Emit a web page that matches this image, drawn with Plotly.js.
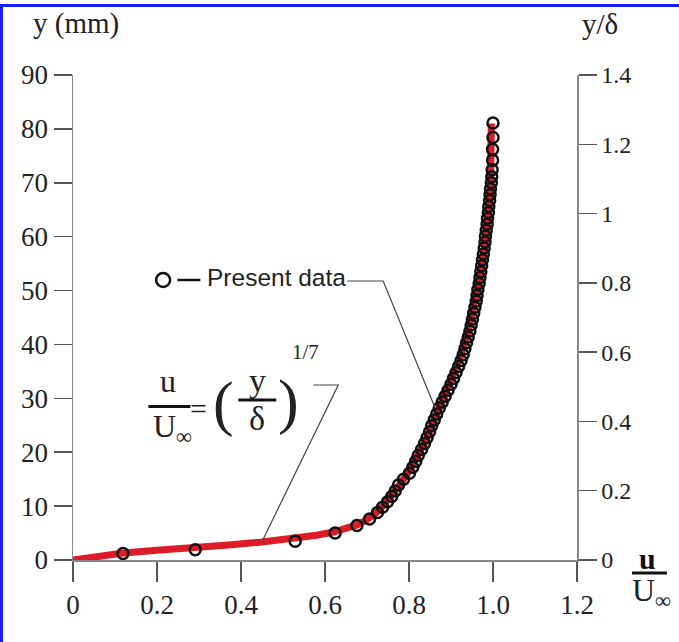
<!DOCTYPE html>
<html>
<head>
<meta charset="utf-8">
<script src="https://cdn.plot.ly/plotly-3.0.1.min.js"></script>
<style>
  html, body { margin: 0; padding: 0; background: #fff; overflow: hidden; }
  #wrap { position: relative; width: 679px; height: 642px; overflow: hidden; }
  #plot { width: 679px; height: 642px; }
  #bTop { position: absolute; left: 0; top: 4px; width: 679px; height: 3px; background: #1a1aff; pointer-events: none; }
  #bLeft { position: absolute; left: 0; top: 4px; width: 3px; height: 638px; background: #1a1aff; pointer-events: none; }
</style>
</head>
<body>
<div id="wrap"><div id="plot"></div><div id="bTop"></div><div id="bLeft"></div></div>
<script>
// ---- data ----
const xTickVals = [0, 0.2, 0.4, 0.6, 0.8, 1.0, 1.2];
const xTickText = ['0', '0.2', '0.4', '0.6', '0.8', '1.0', '1.2'];
const yLeftRange = [0, 90];
const yRightRange = [0, 1.4];

// Present data (u/U_inf, y in mm)
const dataU = [0.119, 0.291, 0.529, 0.624, 0.676, 0.706, 0.725, 0.737, 0.749, 0.759,
  0.767, 0.775, 0.787, 0.801, 0.809, 0.816, 0.822, 0.830, 0.837, 0.843,
  0.849, 0.854, 0.860, 0.866, 0.872, 0.879, 0.886, 0.893, 0.900, 0.906,
  0.912, 0.918, 0.924, 0.929, 0.933, 0.937, 0.941, 0.945, 0.948, 0.951,
  0.954, 0.957, 0.960, 0.962, 0.964, 0.967, 0.969, 0.971, 0.973, 0.975,
  0.977, 0.979, 0.981, 0.982, 0.984, 0.986, 0.987, 0.989, 0.990, 0.992,
  0.993, 0.994, 0.996, 0.997, 0.998, 0.999, 0.999, 1.000, 1.000];
const dataY = [1.2, 1.9, 3.5, 5.0, 6.4, 7.6, 8.8, 9.8, 10.8, 11.8,
  12.8, 13.9, 15.0, 16.1, 17.2, 18.3, 19.4, 20.5, 21.6, 22.7,
  23.8, 24.9, 26.0, 27.1, 28.2, 29.3, 30.4, 31.5, 32.6, 33.7,
  34.8, 35.9, 37.0, 38.1, 39.2, 40.3, 41.4, 42.5, 43.6, 44.7,
  45.8, 46.9, 48.0, 49.1, 50.2, 51.3, 52.4, 53.5, 54.6, 55.7,
  56.8, 57.9, 59.0, 60.1, 61.2, 62.3, 63.4, 64.5, 65.6, 66.7,
  67.8, 68.9, 70.0, 71.1, 72.4, 74.2, 76.2, 78.4, 81.1];

// 1/7 power-law curve as drawn (red)
const fitU = [0, 0.06, 0.12, 0.20, 0.29, 0.37, 0.445, 0.53, 0.58, 0.62, 0.676, 0.70, 0.72,
  0.74, 0.76, 0.78, 0.80, 0.82, 0.84, 0.86, 0.88, 0.90, 0.92, 0.94, 0.955, 0.97,
  0.98, 0.988, 0.993, 0.995, 0.996];
const fitY = [0, 0.7, 1.3, 1.8, 2.2, 2.8, 3.3, 4.0, 4.6, 5.2, 6.5, 7.5, 8.6,
  10.2, 12.0, 14.2, 16.5, 19.3, 22.2, 26.0, 29.5, 33.0, 37.2, 42.0, 47.0, 53.0,
  58.0, 63.0, 68.0, 74.0, 81.0];

// ---- layout helpers (pixel -> paper) ----
const L = 72.5, R = 577, T = 75, B = 560;
const P = px => (px - L) / (R - L);
const Q = py => (B - py) / (B - T);

const serif = 'Liberation Serif, Times New Roman, serif';
const sans = 'Liberation Sans, Arial, sans-serif';
const ink = '#222';

function txt(text, px, py, size, fam, extra) {
  return Object.assign({
    text: text, xref: 'paper', yref: 'paper', x: P(px), y: Q(py),
    xanchor: 'center', yanchor: 'middle', showarrow: false,
    font: {family: fam || serif, size: size, color: ink}
  }, extra || {});
}

const traces = [
  {x: fitU, y: fitY, mode: 'lines', type: 'scatter',
   line: {color: 'rgb(222,28,40)', width: 7}, hoverinfo: 'skip', showlegend: false},
  {x: dataU, y: dataY, mode: 'markers', type: 'scatter',
   marker: {symbol: 'circle-open', size: 11, color: '#111', line: {width: 2.5, color: '#111'}},
   showlegend: false},
  // carrier so the right (y/delta) axis is drawn
  {x: [null], y: [null], yaxis: 'y2', mode: 'markers', type: 'scatter',
   hoverinfo: 'skip', showlegend: false}
];

const layout = {
  width: 679, height: 642,
  margin: {l: L, r: 679 - R, t: T, b: 642 - B, pad: 0},
  paper_bgcolor: '#fff', plot_bgcolor: '#fff',
  showlegend: false,
  xaxis: {
    range: [0, 1.2], tickvals: xTickVals, ticktext: xTickText,
    ticks: 'outside', ticklen: 20, tickwidth: 1.5, tickcolor: '#555',
    showline: true, linecolor: '#888', linewidth: 1.5,
    showgrid: false, zeroline: false, automargin: false,
    tickfont: {family: serif, size: 27, color: ink}
  },
  yaxis: {
    range: yLeftRange, dtick: 10, tick0: 0,
    ticks: 'outside', ticklen: 18, tickwidth: 1.5, tickcolor: '#555',
    showline: true, linecolor: '#888', linewidth: 1.5,
    showgrid: false, zeroline: false, automargin: false,
    tickfont: {family: serif, size: 27, color: ink}
  },
  yaxis2: {
    range: yRightRange, dtick: 0.2, tick0: 0, overlaying: 'y', side: 'right', anchor: 'x',
    ticks: 'outside', ticklen: 18, tickwidth: 1.5, tickcolor: '#555',
    showline: true, linecolor: '#888', linewidth: 1.5,
    showgrid: false, zeroline: false, automargin: false,
    tickfont: {family: serif, size: 24, color: ink}
  },
  shapes: [
    // legend symbol
    {type: 'circle', xref: 'paper', yref: 'paper', xsizemode: 'pixel', ysizemode: 'pixel',
     xanchor: P(162.7), yanchor: Q(280), x0: -7, x1: 7, y0: -7, y1: 7,
     line: {color: '#111', width: 2.5}},
    {type: 'line', xref: 'paper', yref: 'paper', x0: P(177), x1: P(200), y0: Q(280), y1: Q(280),
     line: {color: '#111', width: 2.5}},
    // leader: Present data
    {type: 'path', xref: 'paper', yref: 'paper',
     path: `M ${P(347)} ${Q(281)} L ${P(383)} ${Q(281)} L ${P(435)} ${Q(408)}`,
     line: {color: '#444', width: 1.2}},
    // leader: formula
    {type: 'path', xref: 'paper', yref: 'paper',
     path: `M ${P(313)} ${Q(385)} L ${P(338)} ${Q(385)} L ${P(262)} ${Q(541)}`,
     line: {color: '#444', width: 1.2}},
    // fraction bars
    {type: 'line', xref: 'paper', yref: 'paper', x0: P(148), x1: P(190), y0: Q(406.5), y1: Q(406.5),
     line: {color: '#111', width: 3}},
    {type: 'line', xref: 'paper', yref: 'paper', x0: P(238), x1: P(276), y0: Q(400), y1: Q(400),
     line: {color: '#111', width: 3}},
    {type: 'line', xref: 'paper', yref: 'paper', x0: P(632), x1: P(667), y0: Q(573), y1: Q(573),
     line: {color: '#111', width: 3}}
  ],
  annotations: [
    txt('y (mm)', 76, 24, 29),
    txt('y/δ', 600, 24, 29),
    txt('u', 648, 558, 30, serif, {font: {family: serif, size: 30, color: '#111', weight: 'bold'}}),
    txt('U<sub>∞</sub>', 652, 592, 32),
    txt('Present data', 276, 277, 24.5, sans),
    txt('u', 168, 381, 32),
    txt('U<sub>∞</sub>', 172, 428, 32),
    txt('=', 198, 408, 30),
    txt('(', 223, 403, 62),
    txt('y', 257, 380, 34),
    txt('δ', 257, 419, 34),
    txt(')', 288, 401, 62),
    txt('1/7', 305, 352, 21)
  ]
};

Plotly.newPlot('plot', traces, layout, {staticPlot: true, displayModeBar: false});
</script>
</body>
</html>
